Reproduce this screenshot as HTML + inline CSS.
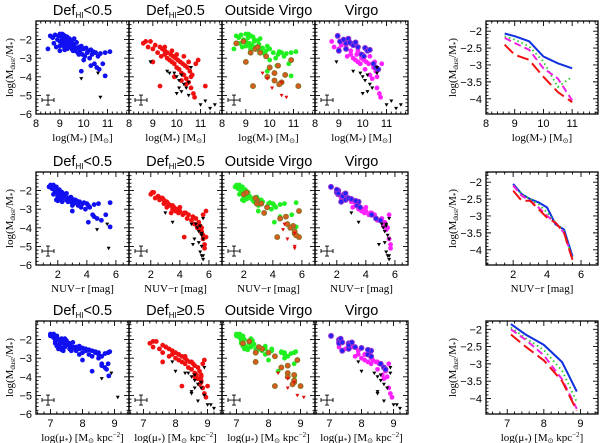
<!DOCTYPE html>
<html><head><meta charset="utf-8"><style>
html,body{margin:0;padding:0;background:#fff;}
svg{display:block;font-family:"Liberation Sans",sans-serif;}
</style></head><body>
<svg id="fig" width="600" height="443" viewBox="0 0 600 443"></svg>
<script>
// [logM, NUV-r, log mu, log(Mdust/M*), virgo]
const normalGal = [
[8.6,1.4,7.0,-1.8,0],[8.7,1.6,7.1,-1.9,0],[8.8,1.5,7.0,-1.75,0],[8.9,1.8,7.2,-2.0,0],[9.0,1.7,7.1,-1.7,0],
[9.05,2.0,7.3,-2.1,1],[9.1,1.9,7.2,-1.9,0],[9.15,2.2,7.4,-2.2,0],[9.2,2.1,7.3,-2.0,1],[9.25,2.4,7.5,-2.3,0],
[9.3,1.8,7.2,-1.85,0],[9.3,2.6,7.6,-2.5,1],[9.35,2.3,7.4,-2.1,0],[9.4,2.0,7.35,-1.95,1],[9.45,2.7,7.7,-2.4,0],
[9.5,2.5,7.6,-2.2,1],[9.5,2.2,7.5,-2.05,0],[9.55,2.9,7.8,-2.6,0],[9.6,2.4,7.6,-2.3,1],[9.65,3.0,7.9,-2.5,0],
[9.7,2.6,7.7,-2.15,1],[9.75,3.1,8.0,-2.7,0],[9.8,2.8,7.8,-2.4,1],[9.85,3.3,8.1,-2.6,0],[9.9,2.9,7.9,-2.35,0],
[9.95,3.4,8.2,-2.8,1],[10.0,3.2,8.1,-2.5,0],[10.05,3.6,8.3,-2.9,1],[10.1,3.0,8.0,-2.45,1],[10.15,3.7,8.4,-2.7,0],
[10.2,3.5,8.3,-2.6,1],[10.25,3.9,8.5,-3.0,0],[10.3,3.3,8.2,-2.55,1],[10.35,4.1,8.5,-2.8,0],[10.4,3.8,8.4,-2.65,0],
[10.45,4.4,8.6,-3.3,1],[10.5,4.0,8.5,-2.7,0],[10.55,4.7,8.7,-3.5,1],[10.6,4.2,8.6,-2.9,0],[10.65,5.0,8.75,-3.6,1],
[10.7,4.5,8.7,-2.75,0],[10.8,5.3,8.8,-3.3,0],[10.9,4.8,8.8,-2.7,0],[11.1,5.6,8.85,-2.65,0],[10.9,5.6,8.82,-3.95,0],
[9.9,4.1,8.3,-3.7,0],[8.75,1.7,7.15,-2.2,0],[8.5,1.9,7.25,-2.5,0],[9.0,2.3,7.4,-2.6,1],[9.2,2.0,7.35,-2.55,0],
[8.95,1.6,7.05,-1.8,1],[9.1,1.5,7.0,-1.7,0],[9.6,2.1,7.45,-1.95,0],[10.0,3.0,8.0,-3.1,0],[10.3,4.5,8.6,-3.4,0],
[9.0,1.8,7.15,-2.1,0],[9.1,2.0,7.25,-2.3,0],[9.2,1.9,7.2,-1.8,0],[9.3,2.1,7.3,-2.2,1],[9.4,2.3,7.45,-2.4,0],
[9.2,2.2,7.35,-2.45,0],[9.5,2.6,7.6,-2.5,0],[9.6,2.7,7.65,-2.6,0],[9.0,2.0,7.2,-2.35,0],[9.35,1.9,7.25,-2.0,0],
[9.45,2.1,7.4,-2.15,1],[9.7,2.8,7.75,-2.45,0],[9.15,1.7,7.1,-1.75,0],[9.55,2.3,7.55,-2.25,0],[8.85,2.1,7.3,-2.4,0],
[9.8,3.0,7.9,-2.8,0]
];
const deficientGal = [
[8.6,2.0,7.2,-2.2,0],[8.7,2.1,7.3,-2.1,1],[8.8,2.3,7.3,-2.4,1],[8.9,2.2,7.4,-2.1,0],[9.0,2.6,7.5,-2.5,1],
[9.1,2.5,7.6,-2.3,1],[9.2,2.9,7.6,-2.7,0],[9.3,2.7,7.7,-2.4,1],[9.35,3.1,7.8,-2.9,1],[9.4,2.9,7.8,-2.5,0],
[9.5,3.3,7.9,-2.8,1],[9.5,3.0,7.9,-2.6,1],[9.6,3.5,8.0,-3.0,1],[9.6,3.2,8.0,-2.7,0],[9.7,3.7,8.1,-3.1,1],
[9.75,3.4,8.1,-2.8,1],[9.8,3.9,8.2,-3.2,1],[9.85,3.6,8.2,-2.9,0],[9.9,4.2,8.3,-3.3,1],[9.95,3.8,8.3,-3.0,1],
[10.0,4.5,8.4,-3.5,0],[10.05,4.0,8.35,-3.1,1],[10.1,4.8,8.5,-3.6,1],[10.15,4.3,8.45,-3.2,1],[10.2,5.0,8.6,-3.8,0],
[10.25,4.6,8.55,-3.3,1],[10.3,5.2,8.65,-3.9,1],[10.35,4.9,8.6,-3.4,0],[10.4,5.4,8.7,-4.1,1],[10.45,5.1,8.7,-3.5,1],
[10.5,5.5,8.8,-4.3,0],[10.55,5.3,8.75,-3.7,1],[10.6,5.6,8.85,-4.6,1],[10.65,5.4,8.8,-3.9,0],[10.7,5.7,8.9,-4.9,1],
[10.6,5.5,8.8,-4.0,1],[10.8,5.6,8.85,-3.3,1],[10.9,5.8,8.9,-3.1,0],[11.2,5.8,9.0,-4.5,0],[10.75,5.7,8.95,-5.1,1],
[9.0,3.4,7.6,-3.2,0],[9.3,4.3,8.2,-4.5,0],[9.8,3.1,7.9,-2.6,1],[10.0,3.5,8.1,-2.8,1],[10.3,4.0,8.3,-2.9,1],
[10.5,4.4,8.5,-3.2,1],[9.5,2.8,7.7,-2.4,0],[9.9,5.2,8.6,-4.0,0],[10.2,5.5,8.8,-4.2,0],[10.4,5.6,8.75,-4.4,0]
];
const normalLimits = [[9.9,4.7,8.6,-4.1,0],[10.7,5.5,9.1,-5.1,0],[10.6,5.4,8.9,-3.8,1]];
const deficientLimits = [
[8.9,3.0,7.9,-3.2,1],[9.6,3.5,8.0,-3.7,1],[9.9,5.1,8.4,-3.8,1],[10.0,5.2,8.5,-4.0,1],[10.1,5.3,8.6,-4.2,1],
[10.2,5.4,8.6,-3.9,1],[10.3,5.5,8.7,-4.4,1],[10.4,5.6,8.8,-4.6,1],[10.2,5.3,8.5,-4.8,1],[10.5,5.5,8.8,-4.3,0],
[10.6,5.6,8.9,-3.5,1],[10.0,4.9,8.5,-4.9,1],[11.0,5.5,9.0,-5.5,1],[11.2,5.4,8.7,-5.3,1],[11.4,5.6,9.2,-5.7,1],
[11.6,5.6,9.1,-5.5,1],[9.7,4.8,8.3,-3.8,0],[10.5,5.5,8.9,-5.0,0],[10.1,5.0,8.6,-4.6,0]
];
// right-hand mean trends
const trendX1 = [8.65,9.0,9.5,10.0,10.5,11.0];
const trendBlue1 = [-2.07,-2.15,-2.3,-2.75,-2.95,-3.1];
const trendGreen1 = [-2.15,-2.25,-2.45,-2.9,-3.65,-3.35];
const trendMagenta1 = [-2.2,-2.35,-2.55,-3.1,-3.4,-4.05];
const trendRed1 = [-2.4,-2.7,-2.85,-3.35,-3.8,-4.1];
const trendX2 = [2,2.5,3,3.5,4,4.5,5,5.5];
const trendBlue2 = [-2.05,-2.35,-2.5,-2.6,-2.75,-3.25,-3.4,-4.2];
const trendGreen2 = [-2.1,-2.35,-2.5,-2.65,-2.9,-3.2,-3.45,-4.25];
const trendMagenta2 = [-2.1,-2.4,-2.55,-2.75,-3.0,-3.2,-3.5,-4.3];
const trendRed2 = [-2.25,-2.55,-2.55,-2.8,-3.05,-3.2,-3.5,-4.3];
const trendX3 = [7.1,7.5,8.0,8.5,8.9];
const trendBlue3 = [-1.85,-2.15,-2.45,-2.95,-3.8];
const trendGreen3 = [-1.95,-2.25,-2.6,-3.2,-4.1];
const trendMagenta3 = [-2.0,-2.3,-2.75,-3.45,-4.3];
const trendRed3 = [-2.15,-2.5,-2.9,-3.5,-4.35];
const colTitles = ["Def<0.5","Def≥0.5","Outside Virgo","Virgo"];
const leftYTicks = [-2,-3,-4,-5,-6];
const rightYTicks = [-2,-2.5,-3,-3.5,-4];
const xTicks = [[8,9,10,11],[2,4,6],[7,8,9]];

const NS="http://www.w3.org/2000/svg";
const svg=document.getElementById('fig');
function mk(tag,attrs,parent){const e=document.createElementNS(NS,tag);for(const k in attrs)e.setAttribute(k,attrs[k]);(parent||svg).appendChild(e);return e;}

const colX=[36,129,222,315], W=93, rowY=[21,172,321], H=93;
const xDom=[[8,11.9],[0.5,6.9],[6.55,9.45]];
const rDom=[[8,11.9],[0.4,7],[6.42,9.48]];
const rY=[[-1.7,-4.45],[-1.7,-4.45],[-1.76,-4.45]];
const xMinor=[0.2,0.5,0.2];
const xTitles=["log(M<tspan font-size='7' dy='2'>*</tspan><tspan dy='-2'>) [M</tspan><tspan font-size='7' dy='2'>⊙</tspan><tspan dy='-2'>]</tspan>",
 "NUV−r [mag]",
 "log(μ<tspan font-size='7' dy='2'>*</tspan><tspan dy='-2'>) [M</tspan><tspan font-size='7' dy='2'>⊙</tspan><tspan dy='-2'> kpc</tspan><tspan font-size='7' dy='-4'>−2</tspan><tspan dy='4'>]</tspan>"];
const yTitle="log(M<tspan font-size='7' dy='2'>dust</tspan><tspan dy='-2'>/M</tspan><tspan font-size='7' dy='2'>*</tspan><tspan dy='-2'>)</tspan>";

function axis(g,x0,y0,w,h,xd,yd,xmaj,xmin,ymaj,ymin){
  const sx=v=>x0+(v-xd[0])/(xd[1]-xd[0])*w, sy=v=>y0+(v-yd[0])/(yd[1]-yd[0])*h;
  mk('rect',{x:x0,y:y0,width:w,height:h,fill:'none',stroke:'#000','stroke-width':1.3},g);
  let d='';
  const lo=Math.min(xd[0],xd[1]),hi=Math.max(xd[0],xd[1]);
  for(let v=Math.ceil(lo/xmin-1e-6)*xmin;v<=hi+1e-9;v+=xmin){const X=sx(v);const maj=Math.abs(v/xmaj-Math.round(v/xmaj))<1e-6;const L=maj?5:2.5;d+=`M${X},${y0+h}v${-L}M${X},${y0}v${L}`;}
  const ylo=Math.min(yd[0],yd[1]),yhi=Math.max(yd[0],yd[1]);
  for(let v=Math.ceil(ylo/ymin-1e-6)*ymin;v<=yhi+1e-9;v+=ymin){const Y=sy(v);const maj=Math.abs(v/ymaj-Math.round(v/ymaj))<1e-6;const L=maj?5:2.5;d+=`M${x0},${Y}h${L}M${x0+w},${Y}h${-L}`;}
  mk('path',{d:d,stroke:'#000','stroke-width':0.9,fill:'none'},g);
  return [sx,sy];
}
function circ(g,x,y,fill,stroke,name){const c=mk('circle',{cx:x,cy:y,r:2.4,fill:fill,stroke:stroke||'none','stroke-width':1.1},g);

}
function tri(g,x,y,fill,name){const t=mk('path',{d:`M${x-2},${y-1.5}h4l-2,3.5z`,fill:fill},g);

}

for(let r=0;r<3;r++){
  for(let c=0;c<4;c++){
    const g=mk('g',{});
    
    
    const [sx,sy]=axis(g,colX[c],rowY[r],W,H,xDom[r],[-1,-6],r==1?2:1,xMinor[r],1,0.2);
    const t=mk('text',{x:colX[c]+W/2,y:rowY[r]-6,'text-anchor':'middle','font-size':14.5,fill:'#000'},g);
    
    
    if(c<2){t.innerHTML=`Def<tspan font-size='8' dy='3'>HI</tspan><tspan dy='-3'>${c==0?'&lt;0.5':'≥0.5'}</tspan>`;}
    else t.textContent=colTitles[c];
    xTicks[r].forEach(v=>{const tl=mk('text',{x:sx(v),y:rowY[r]+H+13,'text-anchor':'middle','font-size':11},g);tl.textContent=v;
      
      });
    const xt=mk('text',{x:colX[c]+W/2,y:rowY[r]+H+27,'text-anchor':'middle','font-size':11,'font-family':'Liberation Serif, serif'},g);
    xt.innerHTML=xTitles[r];
    
    
    if(c==0){
      leftYTicks.forEach(v=>{const tl=mk('text',{x:colX[0]-4,y:sy(v)+4,'text-anchor':'end','font-size':11},g);tl.textContent='−'+Math.abs(v);
        
        });
      const yt=mk('text',{transform:`translate(13,${rowY[r]+H/2}) rotate(-90)`,'text-anchor':'middle','font-size':11,'font-family':'Liberation Serif, serif'},g);
      yt.innerHTML=yTitle;
      
      
    }
    const ex=colX[c]+12, ey=sy(-5.25);
    mk('path',{d:`M${ex-6},${ey}h12M${ex-6},${ey-2}v4M${ex+6},${ey-2}v4M${ex},${ey-5}v10M${ex-2},${ey-5}h4M${ex-2},${ey+5}h4`,stroke:'#000','stroke-width':0.9,fill:'none'},g);
    const xi=r;
    if(c==0){
      normalGal.forEach(p=>circ(g,sx(p[xi]),sy(p[3]),'#1010f0',null,'point-hi-normal'));
      normalLimits.forEach(p=>tri(g,sx(p[xi]),sy(p[3]),'#000','upper-limit'));
    } else if(c==1){
      deficientGal.forEach(p=>circ(g,sx(p[xi]),sy(p[3]),'#f01010',null,'point-hi-deficient'));
      deficientLimits.forEach(p=>tri(g,sx(p[xi]),sy(p[3]),'#000','upper-limit'));
    } else if(c==2){
      normalGal.filter(p=>!p[4]).forEach(p=>circ(g,sx(p[xi]),sy(p[3]),'#20f020',null,'point-outside-normal'));
      deficientGal.filter(p=>!p[4]).forEach(p=>circ(g,sx(p[xi]),sy(p[3]),'#e05a20','#8a7020','point-outside-deficient'));
      deficientLimits.concat(normalLimits).filter(p=>!p[4]).forEach(p=>tri(g,sx(p[xi]),sy(p[3]),'#e01010','upper-limit'));
    } else {
      deficientGal.filter(p=>p[4]).forEach(p=>circ(g,sx(p[xi]),sy(p[3]),'#ff20ff',null,'point-virgo-deficient'));
      normalGal.filter(p=>p[4]).forEach(p=>circ(g,sx(p[xi]),sy(p[3]),'#2020ff','#9030d0','point-virgo-normal'));
      deficientLimits.concat(normalLimits).filter(p=>p[4]).forEach(p=>tri(g,sx(p[xi]),sy(p[3]),'#000','upper-limit'));
    }
  }
  const g=mk('g',{});
  
  
  const [sx,sy]=axis(g,486,rowY[r],112,H,rDom[r],rY[r],r==1?2:1,r==1?0.5:0.2,0.5,0.1);
  xTicks[r].forEach(v=>{const tl=mk('text',{x:sx(v),y:rowY[r]+H+13,'text-anchor':'middle','font-size':11},g);tl.textContent=v;
    
    });
  rightYTicks.forEach(v=>{const tl=mk('text',{x:482,y:sy(v)+4,'text-anchor':'end','font-size':11},g);tl.textContent='−'+Math.abs(v);
    
    });
  const xt=mk('text',{x:542,y:rowY[r]+H+27,'text-anchor':'middle','font-size':11,'font-family':'Liberation Serif, serif'},g);
  xt.innerHTML=xTitles[r];
  
  
  const yt=mk('text',{transform:`translate(456,${rowY[r]+H/2}) rotate(-90)`,'text-anchor':'middle','font-size':11,'font-family':'Liberation Serif, serif'},g);
  yt.innerHTML=yTitle;
  
  
  const X=[trendX1,trendX2,trendX3][r];
  const series=[[[trendBlue1,trendBlue2,trendBlue3][r],'#1030e0','',2,'trend-hi-normal'],
    [[trendGreen1,trendGreen2,trendGreen3][r],'#20d020','1.5 3',1.8,'trend-outside'],
    [[trendMagenta1,trendMagenta2,trendMagenta3][r],'#f020e0','7 4',2,'trend-virgo'],
    [[trendRed1,trendRed2,trendRed3][r],'#f01010','12 5',2,'trend-hi-deficient']];
  series.forEach(s=>{
    const p=mk('polyline',{points:X.map((x,i)=>sx(x)+','+sy(s[0][i])).join(' '),fill:'none',stroke:s[1],'stroke-width':s[3],'stroke-dasharray':s[2]},g);
    
    
  });
}
</script>
</body></html>
